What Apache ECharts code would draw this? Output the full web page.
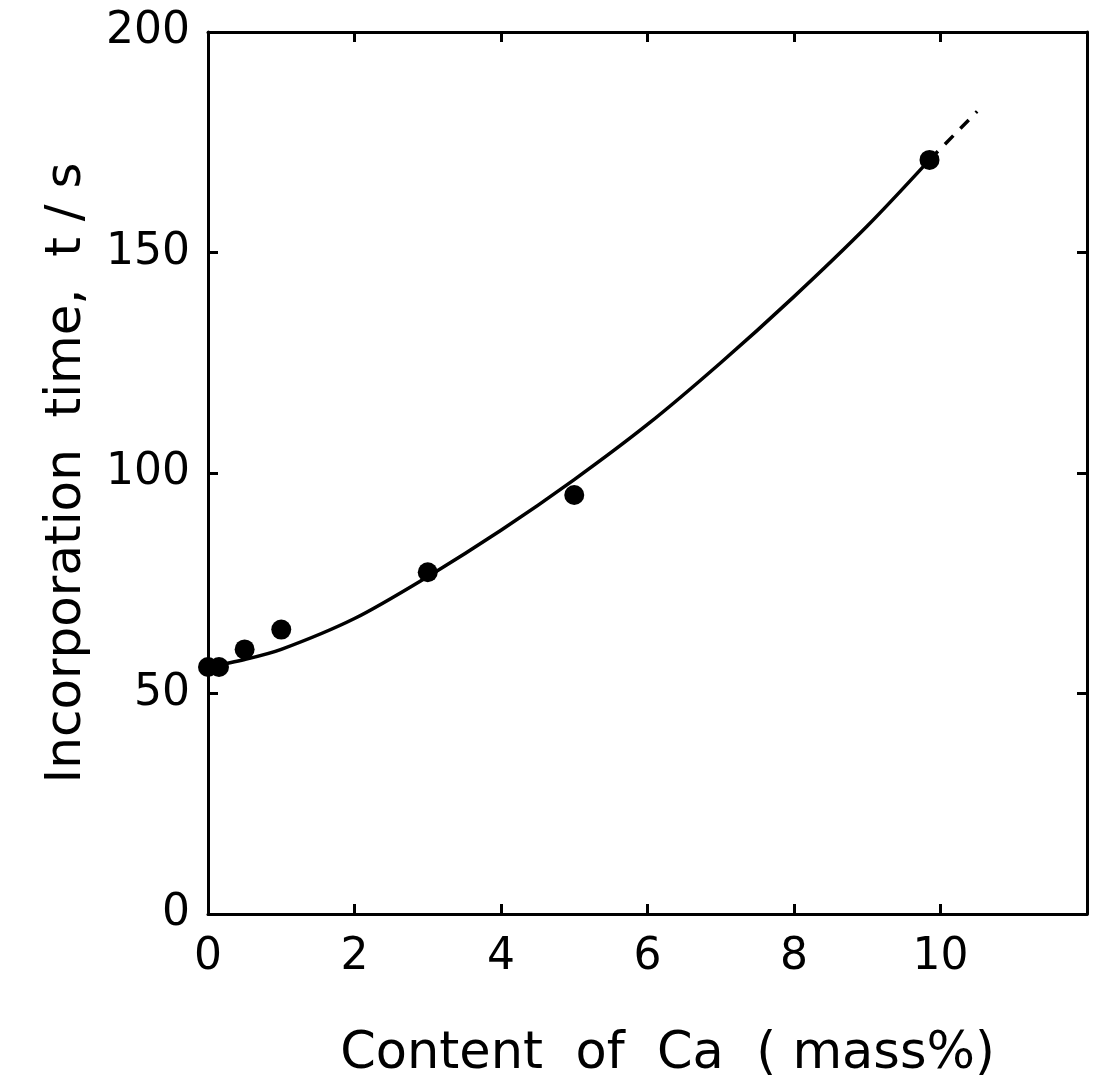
<!DOCTYPE html>
<html>
<head>
<meta charset="utf-8">
<script src="https://cdn.jsdelivr.net/npm/echarts@6/dist/echarts.min.js"></script>
<style>
  html, body { margin: 0; padding: 0; background: #fff; }
  #chart { width: 1099px; height: 1090px; }
</style>
</head>
<body>
<div id="chart"></div>
<script>
// measured points
const caContent = [0, 0.15, 0.5, 1, 3, 5, 9.85];
const incTime = [56, 56, 60, 64.5, 77.5, 95, 171];

// fitted curve (solid) and extrapolation (dashed)
const fitX = [0, 0.5, 1, 2, 3, 4, 5, 6, 7, 8, 9, 9.85];
const fitY = [56, 57.7, 60, 67, 76.5, 87, 98.5, 111, 125, 140, 156, 171];
const dashX = [9.85, 10.5];
const dashY = [171, 182];

const xMax = 12;
const yMax = 200;

const pairs = (xs, ys) => xs.map((x, i) => [x, ys[i]]);

const font = "DejaVu Sans";
const black = "#000";

const axisCommon = {
  type: "value",
  axisLine: { show: true, onZero: false, lineStyle: { color: black, width: 3 } },
  axisTick: { show: true, inside: true, length: 10, lineStyle: { color: black, width: 3 } },
  splitLine: { show: false },
};

const chart = echarts.init(document.getElementById("chart"));
chart.setOption({
  backgroundColor: "#fff",
  animation: false,
  grid: { left: 208, right: 12, top: 32, bottom: 176 },
  xAxis: [
    {
      ...axisCommon,
      min: 0,
      max: xMax,
      interval: 2,
      axisLabel: {
        margin: 22,
        color: black,
        fontFamily: font,
        fontSize: 44,
        formatter: (v) => (v === xMax ? "" : v),
      },
      name: "Content  of  Ca  ( mass%)",
      nameLocation: "middle",
      nameGap: 115,
      nameTextStyle: {
        color: black,
        fontFamily: font,
        fontSize: 51,
        padding: [0, 0, 0, 40],
      },
    },
    {
      ...axisCommon,
      position: "top",
      min: 0,
      max: xMax,
      interval: 2,
      axisLabel: { show: false },
    },
  ],
  yAxis: [
    {
      ...axisCommon,
      min: 0,
      max: yMax,
      interval: 50,
      axisLabel: {
        margin: 18,
        color: black,
        fontFamily: font,
        fontSize: 44,
      },
      name: "Incorporation  time,  t / s",
      nameLocation: "middle",
      nameGap: 116,
      nameRotate: 90,
      nameTextStyle: {
        color: black,
        fontFamily: font,
        fontSize: 50,
      },
    },
    {
      ...axisCommon,
      position: "right",
      min: 0,
      max: yMax,
      interval: 50,
      axisLabel: { show: false },
    },
  ],
  series: [
    {
      type: "line",
      data: pairs(fitX, fitY),
      smooth: 0.3,
      showSymbol: false,
      lineStyle: { color: black, width: 3.5 },
      z: 2,
    },
    {
      type: "line",
      data: pairs(dashX, dashY),
      showSymbol: false,
      lineStyle: { color: black, width: 3.5, type: [12, 10] },
      z: 2,
    },
    {
      type: "scatter",
      data: pairs(caContent, incTime),
      symbol: "circle",
      symbolSize: 20,
      itemStyle: { color: black, opacity: 1 },
      z: 3,
    },
  ],
});
</script>
</body>
</html>
